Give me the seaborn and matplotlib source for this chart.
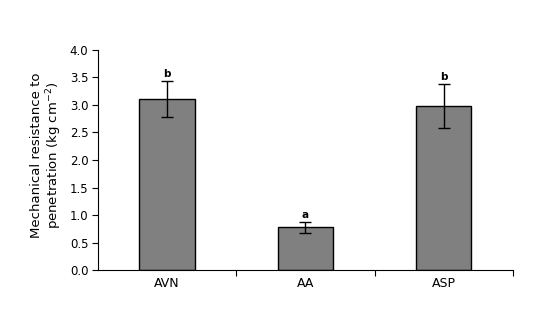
import matplotlib
matplotlib.use("Agg")
import matplotlib.pyplot as plt
import seaborn as sns
import pandas as pd

categories = ["AVN", "AA", "ASP"]
values = [3.11, 0.78, 2.99]
errors = [0.33, 0.10, 0.40]
letters = ["b", "a", "b"]
yticks = [0.0, 0.5, 1.0, 1.5, 2.0, 2.5, 3.0, 3.5, 4.0]

sns.set_style("white")
plt.rcParams['font.family'] = ['DejaVu Sans']
plt.rcParams['text.color'] = 'black'
plt.rcParams['axes.labelcolor'] = 'black'
plt.rcParams['xtick.color'] = 'black'
plt.rcParams['ytick.color'] = 'black'

df = pd.DataFrame({"cat": categories, "val": values})
fig = plt.figure(figsize=(5.52, 3.30), dpi=100)
ax = fig.add_axes([0.1775, 0.1818, 0.7515, 0.6667])
sns.barplot(data=df, x="cat", y="val", color="#808080", saturation=1,
            width=0.4, edgecolor="black", linewidth=1.0, ax=ax, errorbar=None)
ax.errorbar(range(len(categories)), values, yerr=errors, fmt="none",
            ecolor="black", elinewidth=1.0, capsize=4, capthick=1.0)
for i, (v, e, l) in enumerate(zip(values, errors, letters)):
    ax.text(i, v + e + 0.03, l, ha="center", va="bottom", fontsize=7.5,
            fontweight="bold", color="black")

ax.set_xlim(-0.5, 2.5)
ax.set_ylim(0, 4.0)
ax.set_yticks(yticks)
ax.set_yticklabels([f"{t:.1f}" for t in yticks], fontsize=8.5)
ax.set_xticks(range(len(categories)))
ax.set_xticklabels(categories, fontsize=9)
ax.set_xticks([0.5, 1.5, 2.5], minor=True)
ax.tick_params(axis="x", which="major", length=0, pad=5)
ax.tick_params(axis="x", which="minor", length=4, width=0.8, direction="out", bottom=True)
ax.tick_params(axis="y", length=4, width=0.8, direction="out", left=True, pad=3)
ax.set_xlabel("")
ax.set_ylabel("Mechanical resistance to\npenetration (kg cm$^{-2}$)", fontsize=9.5,
              linespacing=1.1, color="black")
ax.yaxis.set_label_coords(-0.082, 0.52)
for s in ["top", "right"]:
    ax.spines[s].set_visible(False)
for s in ["left", "bottom"]:
    ax.spines[s].set_color("black")
    ax.spines[s].set_linewidth(0.8)

fig.savefig("out.png", dpi=100)
